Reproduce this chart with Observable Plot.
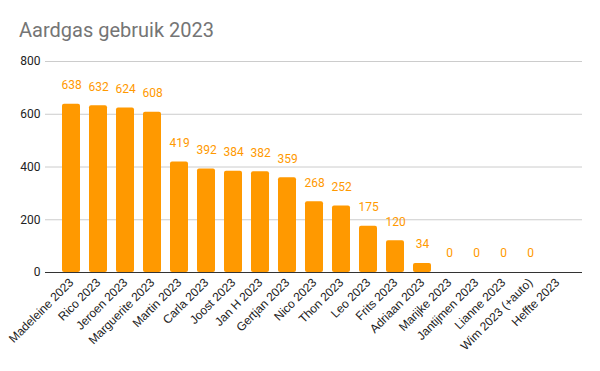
<!DOCTYPE html>
<html>
<head>
<meta charset="utf-8">
<script src="https://cdn.jsdelivr.net/npm/d3@7"></script>
<script src="https://cdn.jsdelivr.net/npm/@observablehq/plot@0.6"></script>
<style>
  body { margin: 0; background: #fff; font-family: Roboto, Arial, sans-serif; }
  #title { height: 50px; box-sizing: border-box; padding: 18px 0 0 19px; font-size: 20px; color: #757575; line-height: 24px; }
  .xax text { font-family: "Liberation Sans", Arial, sans-serif; }
</style>
</head>
<body>
<div id="title">Aardgas gebruik 2023</div>
<div id="chart"></div>
<script>
const names = ["Madeleine 2023", "Rico 2023", "Jeroen 2023", "Marguerite 2023", "Martin 2023", "Carla 2023", "Joost 2023", "Jan H 2023", "Gertjan 2023", "Nico 2023", "Thon 2023", "Leo 2023", "Frits 2023", "Adriaan 2023", "Marijke 2023", "Jantijmen 2023", "Lianne 2023", "Wim 2023 (+auto)", "Heffte 2023"];
const values = [638, 632, 624, 608, 419, 392, 384, 382, 359, 268, 252, 175, 120, 34, 0, 0, 0, 0, null];
const yTicks = [0, 200, 400, 600, 800];

const data = names.map((n, i) => ({name: n, value: values[i]}));
const withVal = data.filter(d => d.value != null);

const plot = Plot.plot({
  width: 600,
  height: 321,
  marginTop: 11,
  marginBottom: 99,
  marginLeft: 45,
  marginRight: 18,
  style: {fontFamily: "Roboto, Arial, sans-serif", fontSize: "12px", color: "#222", background: "#fff"},
  x: {domain: names, padding: 0.35, label: null},
  y: {domain: [0, 800], label: null},
  marks: [
    Plot.gridY(yTicks, {stroke: "#cccccc", strokeOpacity: 1}),
    Plot.axisY(yTicks, {tickSize: 0, tickPadding: 5, label: null, fontSize: 12, fill: "#222"}),
    Plot.barY(withVal, {x: "name", y: "value", fill: "#FF9900", rx: 2}),
    Plot.text(withVal, {x: "name", y: "value", text: d => String(d.value), dy: -19, fill: "#FF9900", fontSize: 12}),
    Plot.ruleY([0], {stroke: "#333"}),
    Plot.axisX({tickSize: 0, tickPadding: 8, tickRotate: -45, label: null, fontSize: 12, fill: "#222", className: "xax"})
  ]
});
document.getElementById("chart").appendChild(plot);
</script>
</body>
</html>
